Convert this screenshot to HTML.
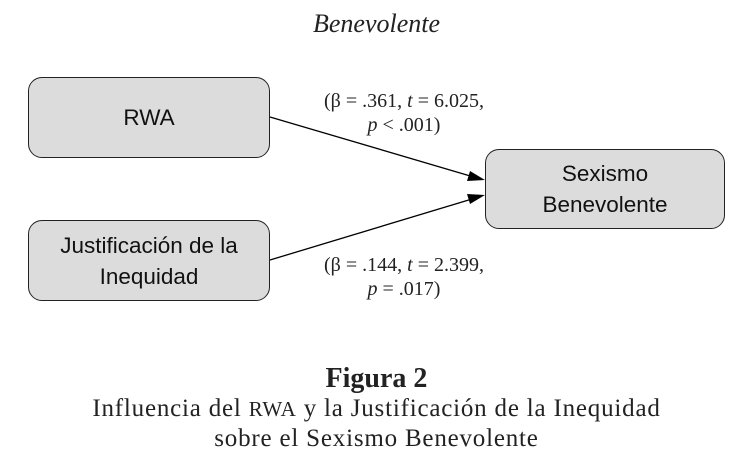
<!DOCTYPE html>
<html><head><style>
body{margin:0;background:#fff;width:753px;height:475px;position:relative;overflow:hidden}
.t{position:absolute;font-family:"Liberation Serif",serif;color:#222;text-align:center}
.b{position:absolute;background:#dcdcdc;border:1.5px solid #222;border-radius:14px;box-sizing:border-box;display:flex;align-items:center;justify-content:center;text-align:center;font-family:"Liberation Sans",sans-serif;font-size:22.5px;line-height:31px;color:#111}
</style></head><body>
<div class="t" style="left:0;width:753px;top:9px;font-size:26px;font-style:italic">Benevolente</div>
<div class="b" style="left:28px;top:77px;width:242px;height:81px">RWA</div>
<div class="b" style="left:28px;top:220px;width:242px;height:81px">Justificación de la<br>Inequidad</div>
<div class="b" style="left:485px;top:149px;width:240px;height:80px">Sexismo<br>Benevolente</div>
<svg style="position:absolute;left:0;top:0" width="753" height="475">
<line x1="270" y1="117" x2="472" y2="176.5" stroke="#000" stroke-width="1.3"/>
<polygon points="485,180 470,171 467,181" fill="#000"/>
<line x1="270" y1="260" x2="472" y2="199" stroke="#000" stroke-width="1.3"/>
<polygon points="485,195 467,194 470,204" fill="#000"/>
</svg>
<div class="t" style="left:294px;width:220px;top:89px;font-size:20px;line-height:24px">(β = .361, <i>t</i> = 6.025,<br><i>p</i> &lt; .001)</div>
<div class="t" style="left:294px;width:220px;top:253px;font-size:20px;line-height:24px">(β = .144, <i>t</i> = 2.399,<br><i>p</i> = .017)</div>
<div class="t" style="left:0;width:753px;top:363px;font-size:28px;font-weight:bold">Figura 2</div>
<div class="t" style="left:0;width:753px;top:394px;font-size:25px;line-height:30px;letter-spacing:0.8px">Influencia del <span style="font-size:21px">RWA</span> y la Justificación de la Inequidad<br>sobre el Sexismo Benevolente</div>
</body></html>
